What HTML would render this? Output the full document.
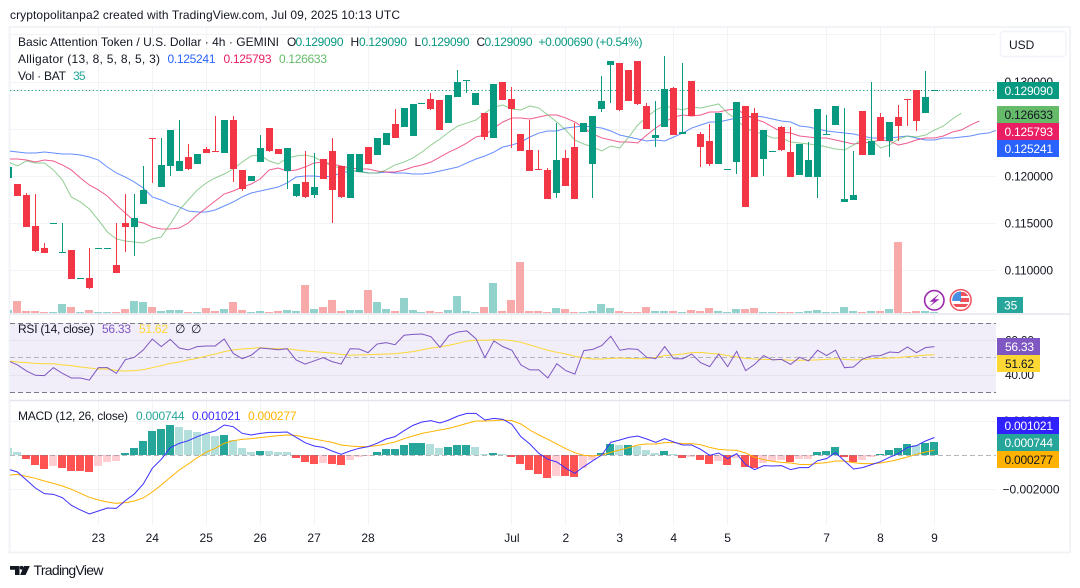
<!DOCTYPE html>
<html lang="en">
<head>
<meta charset="utf-8">
<title>BAT/USD TradingView chart</title>
<style>
html,body{margin:0;padding:0;background:#fff;width:1080px;height:588px;overflow:hidden}
svg{display:block;font-family:"Liberation Sans",sans-serif}
text{white-space:pre}
</style>
</head>
<body>
<svg id="chart" xmlns="http://www.w3.org/2000/svg" width="1080" height="588" viewBox="0 0 1080 588">
  <defs>
    <clipPath id="plot-clip"><rect x="10" y="27" width="986" height="498"/></clipPath>
    <clipPath id="flag-clip"><circle cx="960.7" cy="300" r="8.5"/></clipPath>
  </defs>
  <rect x="0" y="0" width="1080" height="588" fill="#ffffff"/>
  <text x="10" y="19" font-size="12" fill="#131722" textLength="390">cryptopolitanpa2 created with TradingView.com, Jul 09, 2025 10:13 UTC</text>
  <rect x="9.5" y="27" width="1060.5" height="525.5" fill="none" stroke="#f1f3f6" stroke-width="2"/>
  <g id="grid"></g>
  <rect x="10" y="323" width="986" height="69.5" fill="#f1edf9"/>
  <g id="grid-over"></g>
  <g clip-path="url(#plot-clip)">
    <g id="volume"></g>
    <g id="alligator"></g>
    <line x1="10" x2="997" y1="90.5" y2="90.5" stroke="#089981" stroke-width="1" stroke-dasharray="1.2 2.4"/>
    <g id="candles"></g>
    <g id="rsi"></g>
    <g id="macd-hist"></g>
    <line x1="10" x2="996" y1="455.5" y2="455.5" stroke="#787b86" stroke-opacity="0.55" stroke-width="1" stroke-dasharray="5 3"/>
    <g id="macd"></g>
  </g>
  <line x1="10" x2="1070" y1="314" y2="314" stroke="#e4e6ee" stroke-width="1.4"/>
  <line x1="10" x2="1070" y1="400.5" y2="400.5" stroke="#e4e6ee" stroke-width="1.4"/>
  <g id="axis-labels"></g>

  <!-- legend -->
  <g font-size="12">
    <text x="18" y="46" fill="#131722" textLength="261">Basic Attention Token / U.S. Dollar · 4h · GEMINI</text>
    <text x="287" y="46" fill="#131722">O</text>
    <text x="295.5" y="46" fill="#089981" textLength="48">0.129090</text>
    <text x="350.5" y="46" fill="#131722">H</text>
    <text x="359" y="46" fill="#089981" textLength="48">0.129090</text>
    <text x="414.5" y="46" fill="#131722">L</text>
    <text x="421.5" y="46" fill="#089981" textLength="48">0.129090</text>
    <text x="476.5" y="46" fill="#131722">C</text>
    <text x="484.5" y="46" fill="#089981" textLength="48">0.129090</text>
    <text x="538.5" y="46" fill="#089981" textLength="104">+0.000690 (+0.54%)</text>
    <text x="18" y="63" fill="#131722" textLength="142">Alligator (13, 8, 5, 8, 5, 3)</text>
    <text x="167.5" y="63" fill="#2962ff" textLength="48">0.125241</text>
    <text x="223.5" y="63" fill="#e91e63" textLength="48">0.125793</text>
    <text x="279" y="63" fill="#66bb6a" textLength="48">0.126633</text>
    <text x="18" y="80" fill="#131722" textLength="48">Vol · BAT</text>
    <text x="73" y="80" fill="#26a69a" textLength="12.5">35</text>
    <text x="18" y="333" fill="#131722" textLength="76">RSI (14, close)</text>
    <text x="102" y="333" fill="#7e57c2" textLength="29">56.33</text>
    <text x="139" y="333" fill="#fdd835" textLength="29">51.62</text>
    <text x="175" y="333" fill="#131722">∅</text>
    <text x="191" y="333" fill="#131722">∅</text>
    <text x="18" y="420" fill="#131722" textLength="110">MACD (12, 26, close)</text>
    <text x="136" y="420" fill="#26a69a" textLength="48.5">0.000744</text>
    <text x="192" y="420" fill="#3d2fff" textLength="48.5">0.001021</text>
    <text x="248" y="420" fill="#ffb300" textLength="48.5">0.000277</text>
  </g>

  <!-- currency button -->
  <g>
    <rect x="1000.5" y="31.5" width="65.5" height="25" rx="3" fill="#fff" stroke="#f0f3fa" stroke-width="1.5"/>
    <text x="1009" y="49" font-size="12" fill="#131722">USD</text>
  </g>

  <!-- price scale value labels -->
  <g font-size="12" font-weight="400">
    <rect x="997" y="82" width="62" height="17" fill="#089981"/>
    <text x="1053" y="95" text-anchor="end" fill="#fff" textLength="48.5">0.129090</text>
    <rect x="997" y="106" width="62" height="17" fill="#66bb6a"/>
    <text x="1053" y="119" text-anchor="end" fill="#131722" textLength="48.5">0.126633</text>
    <rect x="997" y="123" width="62" height="17" fill="#e91e63"/>
    <text x="1053" y="136" text-anchor="end" fill="#fff" textLength="48.5">0.125793</text>
    <rect x="997" y="140" width="62" height="17" fill="#2962ff"/>
    <text x="1053" y="153" text-anchor="end" fill="#fff" textLength="48.5">0.125241</text>
    <rect x="997" y="297" width="26" height="16" fill="#26a69a"/>
    <text x="1004" y="309.5" fill="#fff">35</text>
    <rect x="997" y="338" width="43" height="17" fill="#7e57c2"/>
    <text x="1005" y="351" fill="#fff" textLength="29">56.33</text>
    <rect x="997" y="355" width="43" height="17" fill="#fdd835"/>
    <text x="1005" y="368" fill="#131722" textLength="29">51.62</text>
    <rect x="997" y="417" width="62" height="17" fill="#3022ff"/>
    <text x="1053" y="430" text-anchor="end" fill="#fff" textLength="48.5">0.001021</text>
    <rect x="997" y="434" width="62" height="17" fill="#26a69a"/>
    <text x="1053" y="447" text-anchor="end" fill="#fff" textLength="48.5">0.000744</text>
    <rect x="997" y="451" width="62" height="17" fill="#ffb300"/>
    <text x="1053" y="464" text-anchor="end" fill="#131722" textLength="48.5">0.000277</text>
  </g>

  <!-- event icons -->
  <g>
    <circle cx="934.3" cy="300.3" r="9.7" fill="#fff" stroke="#9c27b0" stroke-width="1.6"/>
    <polygon points="939.5,293.5 929.5,301.8 934,301.8 929,307 939.5,299.3 934.8,299.3" fill="#9c27b0"/>
  </g>
  <g>
    <circle cx="960.7" cy="300" r="10.4" fill="#fff" stroke="#f0505a" stroke-width="1.5"/>
    <g clip-path="url(#flag-clip)">
      <rect x="951" y="291" width="20" height="18" fill="#fff"/>
      <rect x="951" y="292" width="20" height="4" fill="#f0505a"/>
      <rect x="960" y="298" width="11" height="4" fill="#f0505a"/>
      <rect x="951" y="304" width="20" height="3" fill="#f0505a"/>
      <rect x="951" y="291" width="10" height="10" fill="#4a90e2"/>
    </g>
  </g>

  <!-- branding -->
  <g>
    <path d="M10 566h9.5v9h-4.5v-5.3h-5zM24 566h5.8l-4.2 9h-5.5z" fill="#131722"/>
    <circle cx="21.6" cy="567.8" r="1.9" fill="#131722"/>
    <text x="33.5" y="575" font-size="14" fill="#131722" textLength="70">TradingView</text>
  </g>
</svg>

<script>
// ---- shared time axis ----
const timeTickLabels = ['23','24','25','26','27','28','Jul','2','3','4','5','7','8','9'];
const timeTickBars = [10,16,22,28,34,40,56,62,68,74,80,91,97,103];

// ---- price axis (values in 0.00001 USD) ----
const priceGridTicks = [13500,13000,12500,12000,11500,11000];
const priceLabelTicks = [13000,12500,12000,11500,11000];
const rsiTicks = [60,40];
const macdTicks = [2000,-2000];

// ---- candles (values in 0.00001 USD) ----
const opens = [
11979,11915,11799,11470,11237,11502,11195,11216,10920,10920,
11237,11237,11057,11502,11460,11703,12403,11883,12106,12053,
12201,12127,12286,12265,12244,12593,12064,11947,12148,12508,
12286,12053,11788,11936,11799,12180,12265,12106,11767,12042,
12307,12222,12328,12551,12519,12424,12773,12816,12805,12561,
12837,13017,12752,12667,12403,12996,12816,12445,12275,12074,
12064,11820,12191,12307,12466,12127,12710,13176,13197,13123,
13218,12742,12403,12519,12932,12445,13006,12445,12371,12127,
12074,12148,12742,12667,12180,12265,12519,12254,12011,11989,
11989,12445,12540,11725,11746,12689,12222,12625,12371,12625,
12816,12911,12667,12909];
const highs = [
12095,11915,11820,11809,11290,11502,11502,11216,10920,11237,
11237,11237,11502,11809,11809,12106,12403,12403,12487,12593,
12339,12233,12307,12636,12593,12636,12064,12000,12434,12508,
12286,12297,11915,12265,12244,12180,12403,12106,12233,12233,
12307,12403,12455,12710,12720,12763,12773,12879,12805,12858,
13123,13017,12879,12667,12975,12996,12943,12445,12593,12275,
12085,12561,12275,12561,12561,12636,13059,13218,13197,13123,
13218,12773,12794,13271,12943,13197,13006,12466,12551,12667,
12074,12784,12742,12720,12487,12265,12530,12519,12339,12360,
12710,12646,12742,12720,12265,12689,12996,12667,12572,12752,
12816,12911,13112,12909];
const lows = [
11979,11788,11460,11195,11184,11502,11195,10909,10920,10803,
11237,11237,10972,11195,11153,11703,11926,11883,12000,12053,
12064,12127,12244,12264,12244,11936,11841,11947,12148,12254,
12233,11862,11778,11767,11767,11968,11502,11767,11767,12042,
12127,12222,12328,12403,12519,12424,12773,12699,12487,12561,
12837,12879,12752,12381,12403,12805,12297,12265,12053,12073,
11756,11767,11894,11756,12466,11767,12678,12773,12689,12794,
12752,12498,12307,12519,12434,12445,12636,12095,12106,12127,
12074,12021,11672,11989,12000,12265,12265,11989,12011,11989,
11767,12445,12540,11725,11746,12222,12222,12371,12201,12371,
12530,12477,12667,12909];
const closes = [
12095,11788,11460,11206,11184,11502,11195,10909,10920,10814,
11237,11237,10972,11460,11555,11852,12402,12117,12487,12159,
12074,12233,12244,12264,12593,12074,11862,12000,12297,12265,
12233,12297,11915,11778,11883,11968,11852,11778,12233,12233,
12127,12403,12455,12403,12720,12763,12773,12710,12487,12858,
12996,13017,12879,12413,12975,12805,12710,12265,12053,12073,
11756,12169,11894,11756,12561,12636,12794,13218,12699,12794,
12763,12498,12434,12922,12434,12466,12636,12307,12127,12667,
12074,12784,11672,11989,12487,12265,12275,11989,12339,12169,
12710,12445,12742,11756,11799,12222,12371,12371,12572,12530,
12815,12583,12837,12909];

// ---- volume ----
const volumes = [
105,420,70,70,35,35,315,210,35,105,
35,35,35,140,420,385,210,70,105,105,
35,35,175,70,140,385,105,35,70,35,
70,105,70,980,140,210,455,70,105,105,
805,385,140,70,525,105,35,70,35,105,
595,70,35,210,1050,70,455,1785,70,70,
35,175,140,35,35,70,315,175,70,35,
35,210,70,70,70,35,105,70,175,70,
35,140,140,175,35,35,35,35,35,70,
105,35,35,210,70,35,70,70,140,2485,
35,70,70,35];

// ---- alligator (values in 0.00001 USD) ----
const jaw = [
12265,12254,12244,12244,12254,12244,12233,12233,12222,12201,
12169,12095,12032,11989,11936,11873,11778,11746,11703,11672,
11629,11619,11619,11640,11682,11725,11778,11820,11841,11862,
11883,11926,11989,12000,12000,11989,12000,12032,12053,12053,
12032,12032,12042,12032,12032,12021,12021,12032,12053,12074,
12095,12138,12180,12212,12254,12307,12328,12360,12413,12455,
12477,12477,12508,12519,12530,12519,12508,12477,12434,12413,
12392,12371,12381,12371,12413,12455,12508,12540,12572,12572,
12593,12614,12625,12636,12625,12604,12583,12572,12530,12519,
12498,12477,12466,12455,12445,12424,12403,12403,12403,12413,
12424,12403,12381,12381,12403,12403,12413,12424,12445,12455,
12487,12508];
const teeth = [
12180,12180,12169,12148,12169,12159,12117,12064,11979,11905,
11852,11788,11693,11608,11523,11502,11460,11439,11439,11449,
11502,11587,11661,11735,11809,11841,11883,11915,11968,12064,
12085,12053,12064,12095,12138,12148,12127,12106,12085,12074,
12074,12053,12042,12042,12064,12095,12117,12148,12201,12254,
12297,12350,12413,12434,12508,12572,12614,12614,12604,12625,
12646,12646,12614,12572,12508,12445,12403,12381,12360,12360,
12350,12434,12508,12572,12625,12646,12636,12646,12678,12678,
12699,12710,12646,12604,12572,12519,12466,12455,12424,12413,
12403,12403,12381,12360,12339,12350,12360,12381,12371,12328,
12350,12381,12403,12403,12424,12466,12487,12540,12583];
const lips = [
12148,12106,12159,12138,12138,12064,11958,11778,11725,11650,
11534,11407,11333,11311,11301,11290,11333,11354,11492,11640,
11746,11852,11926,11979,12021,12074,12148,12212,12222,12159,
12127,12191,12212,12222,12201,12148,12106,12085,12064,12042,
12032,12032,12064,12117,12148,12191,12254,12328,12392,12466,
12530,12561,12593,12667,12731,12752,12710,12699,12742,12720,
12646,12572,12487,12381,12339,12307,12265,12318,12297,12413,
12540,12625,12699,12742,12720,12699,12731,12720,12742,12763,
12667,12593,12508,12466,12445,12403,12403,12360,12350,12339,
12328,12307,12286,12275,12328,12392,12381,12297,12328,12392,
12424,12413,12434,12487,12530,12604,12667];

// ---- RSI ----
const rsiValues = [
48.0,45.7,42.2,39.7,39.5,44.1,40.8,38.1,38.1,36.9,
44.1,44.1,40.8,48.7,50.1,54.4,60.7,56.3,60.5,55.5,
54.4,56.3,56.7,56.7,60.7,52.4,49.3,51.3,55.5,55.1,
54.5,55.1,48.6,46.2,48.0,49.9,47.6,46.2,55.1,54.9,
52.8,57.8,58.6,57.4,62.9,63.4,63.6,62.1,55.9,62.7,
64.8,65.4,60.9,49.9,59.6,56.3,54.2,45.7,42.8,42.8,
38.1,46.4,42.4,40.4,54.0,54.7,56.9,62.3,54.2,55.1,
54.7,50.1,49.3,56.3,49.3,49.3,52.0,47.0,44.7,52.0,
44.7,53.6,42.4,46.0,51.1,48.6,48.9,46.0,50.1,48.0,
54.2,51.1,54.2,44.1,44.5,49.1,50.9,51.1,53.2,52.8,
56.1,52.8,55.7,56.33];
const rsiMaValues = [
48.0,47.4,47.0,46.6,46.4,46.4,45.7,45.3,44.5,43.9,
43.3,43.3,42.5,42.2,42.4,43.0,44.1,45.3,46.6,47.4,
48.6,49.5,50.9,52.0,53.4,54.4,54.9,55.3,55.7,55.3,
55.1,55.1,54.4,53.8,53.4,53.0,52.6,51.8,51.3,51.5,
51.6,51.8,52.0,52.2,52.8,53.4,54.4,55.5,56.1,57.1,
58.2,59.6,60.0,60.0,60.3,60.2,59.8,58.8,57.3,55.7,
54.2,53.0,52.0,50.7,49.7,49.1,49.1,49.5,49.7,49.5,
49.3,49.3,50.1,51.1,51.5,52.0,52.8,53.0,52.4,52.0,
51.1,50.3,49.5,49.1,48.9,48.8,48.8,48.4,48.4,48.4,
48.6,48.9,49.3,48.9,48.6,48.8,49.3,49.5,49.7,49.9,
50.5,50.9,51.4,51.62];

// ---- MACD (values in 0.000001) ----
const macdHist = [
427,175,-233,-583,-816,-641,-758,-933,-935,-991,
-641,-408,-350,117,408,816,1399,1516,1749,1632,
1457,1341,1224,1108,1166,874,408,175,233,233,
175,175,-175,-408,-525,-466,-525,-583,-291,-117,
-39,175,350,352,583,699,700,641,408,466,
583,584,466,58,117,58,-117,-525,-874,-1108,
-1341,-1224,-1226,-1282,-758,-291,117,641,583,585,
525,291,117,233,58,-175,-117,-291,-525,-350,
-563,-175,-680,-738,-447,-330,-272,-389,-214,-213,
194,253,486,-97,-389,-272,-97,78,311,427,
661,602,719,744];
const macdLine = [
-835,-991,-1457,-1924,-2254,-2293,-2487,-2934,-3206,-3439,
-3264,-3089,-3109,-2662,-2273,-1690,-777,-253,427,680,
835,1069,1263,1399,1749,1652,1263,1166,1263,1321,
1321,1341,1030,719,525,447,233,39,233,389,
486,680,933,1069,1418,1729,1924,2001,1865,2040,
2273,2429,2429,2040,2137,2079,1788,1069,641,97,
-253,-408,-777,-1069,-680,-330,0,738,874,1030,
1108,933,738,952,758,583,583,330,-19,117,
-214,78,-563,-855,-622,-641,-622,-855,-738,-738,
-330,-214,136,-350,-816,-738,-563,-389,-136,78,
447,544,816,1021];
const macdSignal = [
-1185,-1127,-1244,-1360,-1516,-1652,-1807,-2001,-2234,-2468,
-2623,-2740,-2817,-2778,-2681,-2506,-2157,-1749,-1302,-874,
-525,-155,155,389,680,835,913,952,1010,1069,
1127,1166,1146,1030,933,835,738,583,525,486,
486,544,641,758,952,1108,1263,1360,1457,1554,
1690,1846,1982,1982,2001,2040,2001,1807,1457,1166,
913,641,369,136,-19,-58,0,155,291,427,
583,641,641,719,719,661,661,602,447,330,
291,272,117,-136,-272,-369,-427,-466,-544,-563,
-486,-447,-350,-350,-447,-505,-505,-466,-369,-253,
-117,39,175,277];

// ---- axis functions ----
function xAt(i){ return 8.45 + 8.99 * i; }
function yPrice(v){ return 176 - (v - 12000) * 0.0944; }
function yVolume(v){ return 313 - v / 35; }
function yRsi(v){ return 357.5 - (v - 50) * 1.725; }
function yMacd(v){ return 455 - v * 0.01715; }
function formatPrice(v){ return (v / 100000).toFixed(6); }
function formatMacd(v){ return (v < 0 ? '\u2212' : '') + (Math.abs(v) / 1000000).toFixed(6); }

const SVG_NS = 'http://www.w3.org/2000/svg';
function mk(tag, attrs, parent){
  const el = document.createElementNS(SVG_NS, tag);
  for (const k in attrs) el.setAttribute(k, attrs[k]);
  parent.appendChild(el);
  return el;
}
function linePath(values, yFn){
  return values.map(function(v, i){
    return (i ? 'L' : 'M') + xAt(i).toFixed(2) + ' ' + yFn(v).toFixed(2);
  }).join(' ');
}

const gridG = document.getElementById('grid');
const gridOverG = document.getElementById('grid-over');
const labelsG = document.getElementById('axis-labels');

// horizontal grid + price labels
priceGridTicks.forEach(function(t){
  const l = mk('line', {x1:10, x2:996, y1:Math.round(yPrice(t))+0.5, y2:Math.round(yPrice(t))+0.5, stroke:'#f2f3f5', 'stroke-width':1}, gridG);
  
  
});
priceLabelTicks.forEach(function(t){
  const tx = mk('text', {x:1053, y:yPrice(t)+4.3, 'text-anchor':'end', 'font-size':12, fill:'#131722', textLength:48.5}, labelsG);
  tx.textContent = formatPrice(t);
  
  
});

// vertical grid + time labels
timeTickBars.forEach(function(b, k){
  const vx = Math.floor(xAt(b)) + 0.5;
  const l = mk('line', {x1:vx, x2:vx, y1:28, y2:525, stroke:'#f2f3f5', 'stroke-width':1}, gridG);
  
  
  const tx = mk('text', {x:xAt(b), y:542, 'text-anchor':'middle', 'font-size':12, fill:'#131722'}, labelsG);
  tx.textContent = timeTickLabels[k];
  
  
});

// RSI grid + labels
rsiTicks.forEach(function(t){
  const l = mk('line', {x1:10, x2:996, y1:Math.round(yRsi(t))+0.5, y2:Math.round(yRsi(t))+0.5, stroke:'#e6e3ee', 'stroke-width':1}, gridOverG);
  
  
  const tx = mk('text', {x:1005, y:yRsi(t)+4.3, 'font-size':12, fill:'#131722', textLength:29}, labelsG);
  tx.textContent = t.toFixed(2);
  
  
});
const rsiBands = [70, 50, 30];
rsiBands.forEach(function(b){
  const mid = b === 50;
  const l = mk('line', {x1:10, x2:996, y1:Math.floor(yRsi(b))+0.5, y2:Math.floor(yRsi(b))+0.5, stroke:'#787b86', 'stroke-opacity':mid ? 0.5 : 1, 'stroke-width':1, 'stroke-dasharray':'5 3'}, gridOverG);
  
  
});

// MACD grid + labels
macdTicks.forEach(function(t){
  const l = mk('line', {x1:10, x2:996, y1:Math.round(yMacd(t))+0.5, y2:Math.round(yMacd(t))+0.5, stroke:'#f2f3f5', 'stroke-width':1}, gridG);
  
  
  const tx = mk('text', {x:t < 0 ? 1059.5 : 1053, y:yMacd(t)+4.3, 'text-anchor':'end', 'font-size':12, fill:'#131722'}, labelsG);
  tx.textContent = formatMacd(t);
  
  
});

// volume
const volumeG = document.getElementById('volume');
volumes.forEach(function(v, i){
  const up = closes[i] >= opens[i];
  const top = Math.round(yVolume(v));
  const r = mk('rect', {x:Math.floor(xAt(i))-4, y:top, width:8, height:313-top, fill:up ? '#92d2cc' : '#f8a9a9'}, volumeG);
  
  
});

// alligator
const alligatorG = document.getElementById('alligator');
const jawPath = mk('path', {d:linePath(jaw, yPrice), fill:'none', stroke:'#2962ff', 'stroke-opacity':0.72, 'stroke-width':1}, alligatorG);


const teethPath = mk('path', {d:linePath(teeth, yPrice), fill:'none', stroke:'#e91e63', 'stroke-opacity':0.72, 'stroke-width':1}, alligatorG);


const lipsPath = mk('path', {d:linePath(lips, yPrice), fill:'none', stroke:'#66bb6a', 'stroke-opacity':0.72, 'stroke-width':1}, alligatorG);



// candles
const candlesG = document.getElementById('candles');
opens.forEach(function(o, i){
  const c = closes[i];
  const color = c >= o ? '#089981' : '#f23645';
  const cx = Math.floor(xAt(i));
  const hiY = Math.round(yPrice(highs[i]));
  const loY = Math.round(yPrice(lows[i]));
  const wick = mk('rect', {x:cx, y:hiY, width:1, height:Math.max(1, loY-hiY), fill:color}, candlesG);
  
  
  const bodyTop = Math.round(yPrice(Math.max(o, c)));
  const bodyBottom = Math.round(yPrice(Math.min(o, c)));
  const body = mk('rect', {x:cx-3, y:bodyTop, width:7, height:Math.max(1, bodyBottom-bodyTop), fill:color}, candlesG);
  
  
});

// RSI
const rsiG = document.getElementById('rsi');
const rsiMaPath = mk('path', {d:linePath(rsiMaValues, yRsi), fill:'none', stroke:'#fdd835', 'stroke-width':1}, rsiG);


const rsiPath = mk('path', {d:linePath(rsiValues, yRsi), fill:'none', stroke:'#7e57c2', 'stroke-width':1}, rsiG);



// MACD histogram: colour follows the rise/fall of the value
const histG = document.getElementById('macd-hist');
macdHist.forEach(function(v, i){
  const prev = i ? macdHist[i-1] : v;
  let col;
  if (v >= 0) col = v > prev ? '#26a69a' : '#b2dfdb';
  else col = v < prev ? '#ff5252' : '#ffcdd2';
  const y = Math.round(yMacd(v));
  const r = mk('rect', {x:Math.floor(xAt(i))-4, y:Math.min(y,455), width:8, height:Math.max(1, Math.abs(y-455)), fill:col}, histG);
  
  
});

// MACD lines
const macdG = document.getElementById('macd');
const signalPath = mk('path', {d:linePath(macdSignal, yMacd), fill:'none', stroke:'#ffb300', 'stroke-width':1}, macdG);


const macdPath = mk('path', {d:linePath(macdLine, yMacd), fill:'none', stroke:'#3d2fff', 'stroke-width':1}, macdG);


</script>
</body>
</html>
